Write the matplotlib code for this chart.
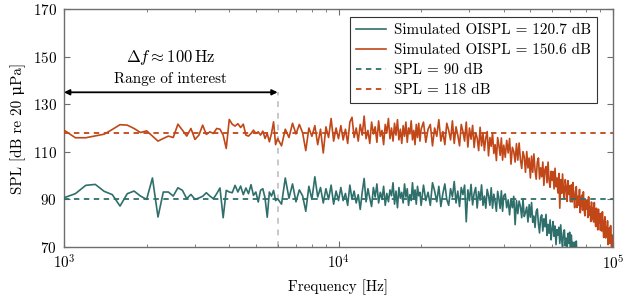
import numpy as np
import matplotlib
matplotlib.use('Agg')
import matplotlib.pyplot as plt

# frequency grid in kHz (fine at low f, coarser where the spectrum is a dense band)
freq_khz = [
    1.0, 1.1, 1.2, 1.3, 1.4, 1.5, 1.6, 1.7, 1.8, 1.9,
    2.0, 2.1, 2.2, 2.3, 2.4, 2.5, 2.6, 2.7, 2.8, 2.9,
    3.0, 3.1, 3.2, 3.3, 3.4, 3.5, 3.6, 3.7, 3.8, 3.9,
    4.0, 4.1, 4.2, 4.3, 4.4, 4.5, 4.6, 4.7, 4.8, 4.9,
    5.0, 5.1, 5.2, 5.3, 5.4, 5.5, 5.6, 5.7, 5.8, 5.9, 6.0,
    6.2, 6.4, 6.6, 6.8, 7.0, 7.2, 7.4, 7.6, 7.8, 8.0,
    8.2, 8.4, 8.6, 8.8, 9.0, 9.2, 9.4, 9.6, 9.8, 10.0,
    10.2, 10.4, 10.6, 10.8, 11.0, 11.2, 11.4, 11.6, 11.8, 12.0,
    12.2, 12.4, 12.6, 12.8, 13.0, 13.2, 13.4, 13.6, 13.8, 14.0,
    14.2, 14.4, 14.6, 14.8, 15.0, 15.2, 15.4, 15.6, 15.8, 16.0,
    16.2, 16.4, 16.6, 16.8, 17.0, 17.2, 17.4, 17.6, 17.8, 18.0,
    18.2, 18.4, 18.6, 18.8, 19.0, 19.2, 19.4, 19.6, 19.8, 20.0,
    20.4, 20.8, 21.2, 21.6, 22.0, 22.4, 22.8, 23.2, 23.6, 24.0,
    24.4, 24.8, 25.2, 25.6, 26.0, 26.4, 26.8, 27.2, 27.6, 28.0,
    28.4, 28.8, 29.2, 29.6, 30.0, 30.4, 30.8, 31.2, 31.6, 32.0,
    32.4, 32.8, 33.2, 33.6, 34.0, 34.4, 34.8, 35.2, 35.6, 36.0,
    36.4, 36.8, 37.2, 37.6, 38.0, 38.4, 38.8, 39.2, 39.6, 40.0,
    40.5, 41.0, 41.5, 42.0, 42.5, 43.0, 43.5, 44.0, 44.5, 45.0,
    45.5, 46.0, 46.5, 47.0, 47.5, 48.0, 48.5, 49.0, 49.5, 50.0,
    50.5, 51.0, 51.5, 52.0, 52.5, 53.0, 53.5, 54.0, 54.5, 55.0,
    55.5, 56.0, 56.5, 57.0, 57.5, 58.0, 58.5, 59.0, 59.5, 60.0,
    60.5, 61.0, 61.5, 62.0, 62.5, 63.0, 63.5, 64.0, 64.5, 65.0,
    65.5, 66.0, 66.5, 67.0, 67.5, 68.0, 68.5, 69.0, 69.5, 70.0,
    70.5, 71.0, 71.5, 72.0, 72.5, 73.0, 73.5, 74.0, 74.5, 75.0,
    75.5, 76.0, 76.5, 77.0, 77.5, 78.0, 78.5, 79.0, 79.5, 80.0,
    80.5, 81.0, 81.5, 82.0, 82.5, 83.0, 83.5, 84.0, 84.5, 85.0,
    85.5, 86.0, 86.5, 87.0, 87.5, 88.0, 88.5, 89.0, 89.5, 90.0,
    90.5, 91.0, 91.5, 92.0, 92.5, 93.0, 93.5, 94.0, 94.5, 95.0,
    95.5, 96.0, 96.5, 97.0, 97.5, 98.0, 98.5, 99.0, 99.5, 100.0,
]

# simulated spectrum, OISPL = 120.7 dB (teal)
spl_low = [
    90.7, 92.4, 95.9, 96.3, 93.4, 92.0, 87.2, 92.4, 93.5, 91.4,
    90.0, 99.0, 82.6, 93.1, 93.1, 91.4, 94.9, 93.8, 90.3, 92.1,
    90.0, 90.6, 91.3, 92.8, 91.4, 90.3, 92.4, 94.8, 82.3, 93.8,
    93.1, 92.8, 95.9, 93.1, 95.6, 92.0, 94.8, 92.4, 96.2, 91.7,
    93.1, 88.9, 93.8, 94.5, 90.6, 82.5, 93.1, 91.4, 93.8, 89.5, 90.3,
    88.0, 99.0, 90.5, 96.5, 89.0, 94.0, 91.5, 85.0, 95.5, 90.0,
    99.5, 91.0, 95.0, 88.5, 94.5, 90.0, 96.0, 88.0, 93.5, 89.5,
    95.0, 89.5, 92.5, 87.5, 96.0, 90.0, 93.5, 88.5, 92.0, 85.8,
    93.0, 98.8, 89.0, 94.5, 90.5, 87.0, 95.0, 91.0, 96.5, 88.5,
    93.0, 90.0, 95.5, 87.5, 92.5, 89.0, 94.0, 91.5, 97.0, 88.0,
    93.5, 86.5, 95.0, 90.5, 93.0, 88.5, 96.5, 91.0, 94.5, 87.5,
    92.0, 89.5, 97.0, 90.0, 94.0, 88.0, 95.5, 91.5, 93.0, 87.5,
    96.0, 89.5, 93.0, 87.5, 97.0, 93.5, 89.0, 95.5, 87.0, 92.5,
    96.5, 90.0, 87.5, 94.5, 91.0, 97.5, 88.5, 93.5, 87.0, 95.0,
    92.0, 96.0, 80.6, 94.0, 89.5, 96.3, 87.7, 92.6, 95.0, 86.4,
    93.3, 89.7, 96.1, 87.5, 91.4, 86.3, 94.2, 91.6, 87.5, 94.9,
    86.3, 92.2, 89.1, 85.0, 93.4, 90.3, 86.2, 93.6, 85.0, 91.5,
    92.3, 86.5, 89.8, 83.5, 90.3, 86.5, 91.3, 79.4, 89.5, 84.0,
    89.3, 87.0, 82.3, 90.0, 82.8, 84.5, 86.8, 80.5, 87.8, 82.5,
    88.7, 80.4, 83.0, 78.2, 84.9, 86.0, 79.7, 75.9, 82.5, 83.5,
    76.7, 81.9, 78.5, 83.7, 74.9, 79.5, 75.7, 81.4, 73.0, 77.5,
    80.7, 74.5, 78.8, 71.0, 77.3, 75.0, 78.3, 71.5, 79.3, 73.0,
    70.2, 76.0, 77.2, 70.5, 73.7, 68.5, 75.7, 71.5, 76.2, 69.5,
    75.0, 69.0, 72.0, 65.5, 72.0, 68.0, 72.5, 65.0, 68.0, 62.0,
    69.0, 63.5, 67.0, 61.5, 66.0, 62.0, 65.0, 60.0, 63.5, 59.5,
    62.5, 58.5, 61.5, 57.5, 60.5, 57.0, 60.0, 56.0, 59.0, 55.5,
    58.5, 54.5, 57.5, 54.0, 57.0, 53.5, 56.0, 52.5, 55.5, 52.0,
    55.0, 51.5, 54.5, 51.0, 54.0, 50.5, 53.0, 50.0, 52.5, 49.5,
    52.0, 49.0, 51.5, 48.5, 51.0, 48.0, 50.5, 47.5, 50.0, 47.0,
]

# simulated spectrum, OISPL = 150.6 dB (orange)
spl_high = [
    119.1, 115.9, 115.9, 116.7, 117.4, 119.4, 121.4, 121.2, 119.8, 118.1,
    118.8, 116.6, 114.5, 115.6, 116.6, 116.0, 121.6, 119.1, 116.6, 119.8,
    115.2, 117.0, 121.2, 117.3, 118.4, 117.7, 119.8, 119.5, 117.0, 111.4,
    123.6, 121.6, 120.8, 121.8, 120.2, 121.6, 117.0, 116.6, 117.7, 119.1,
    117.7, 118.4, 117.0, 118.7, 115.6, 117.7, 114.2, 117.7, 122.6, 113.0, 115.6,
    112.5, 119.5, 116.0, 122.0, 117.5, 121.5, 118.0, 110.5, 120.0, 116.5,
    121.0, 113.0, 119.5, 109.5, 120.5, 116.0, 124.0, 114.5, 120.0, 115.5,
    121.0, 115.0, 119.5, 113.5, 122.5, 124.5, 116.0, 120.0, 114.5, 121.5,
    117.0, 125.0, 115.5, 119.0, 113.5, 122.5, 117.5, 120.5, 114.0, 123.0,
    116.5, 119.0, 113.0, 121.5, 118.0, 124.0, 115.5, 120.0, 114.5, 122.0,
    117.0, 123.5, 115.0, 119.5, 113.5, 121.0, 116.5, 122.5, 114.0, 120.0,
    117.5, 123.0, 115.0, 119.0, 113.0, 121.5, 116.0, 122.0, 114.5, 119.5,
    122.5, 114.0, 119.5, 121.5, 112.5, 120.0, 116.5, 123.5, 114.5, 118.5,
    113.0, 122.0, 119.0, 115.0, 123.0, 113.5, 120.5, 117.0, 112.5, 121.5,
    118.5, 114.5, 122.5, 112.0, 120.0, 115.3, 121.1, 111.8, 118.0, 115.8,
    110.5, 120.3, 112.5, 117.8, 110.5, 115.8, 118.5, 108.3, 116.0, 112.3,
    118.0, 109.3, 113.0, 106.3, 116.0, 112.8, 108.5, 115.8, 106.5, 112.8,
    107.7, 114.8, 109.5, 115.6, 104.8, 111.9, 110.1, 105.7, 113.4, 106.5,
    113.7, 106.8, 103.0, 110.1, 107.8, 101.4, 110.1, 103.2, 107.4, 99.0,
    108.2, 101.4, 109.1, 102.3, 98.5, 105.7, 107.4, 98.6, 103.3, 99.5,
    105.7, 95.9, 102.6, 103.8, 97.0, 105.7, 97.9, 95.1, 101.8, 98.0,
    101.7, 94.4, 103.1, 95.3, 99.0, 92.7, 100.9, 86.3, 98.3, 92.5,
    100.7, 93.4, 90.6, 98.3, 95.0, 89.2, 97.9, 92.1, 95.8, 89.0,
    96.2, 88.9, 97.1, 90.8, 86.5, 93.2, 95.4, 86.6, 91.3, 87.5,
    94.2, 84.4, 90.6, 91.8, 85.5, 93.2, 85.9, 83.1, 89.8, 86.0,
    89.7, 82.4, 91.1, 83.3, 87.0, 80.7, 88.9, 81.6, 86.3, 80.5,
    88.7, 81.4, 78.6, 86.3, 83.0, 77.2, 85.9, 80.1, 83.8, 77.0,
    84.1, 76.7, 84.8, 78.4, 74.0, 80.6, 82.7, 73.8, 78.4, 74.5,
    81.0, 71.0, 77.0, 78.0, 71.5, 79.0, 71.5, 68.5, 75.0, 71.0,
]

ref_levels = [90, 118]
sim_labels = ['Simulated OISPL = 120.7 dB', 'Simulated OISPL = 150.6 dB']
ref_labels = ['SPL = 90 dB', 'SPL = 118 dB']
band_hz = [1000, 6000]      # range of interest
arrow_level = 135

TEAL = '#2f6f6b'
ORANGE = '#c14718'
AXIS_GRAY = '#6e6e6e'
FS = 10.9

plt.rcParams['font.family'] = ['cmr10', 'DejaVu Serif']
plt.rcParams['mathtext.fontset'] = 'cm'
plt.rcParams['axes.formatter.use_mathtext'] = True

fig = plt.figure(figsize=(6.3, 2.96), dpi=100)
ax = fig.add_axes([64 / 630, 49 / 296, 549 / 630, 238 / 296])

freq = np.array(freq_khz) * 1000.0

# range of interest marker
ax.vlines(band_hz[1], 70, arrow_level, colors='#c8c8c8', lw=1.4,
          linestyles=(0, (3, 3)), zorder=1)
ax.annotate('', xy=(band_hz[0], arrow_level), xytext=(band_hz[1], arrow_level),
            arrowprops=dict(arrowstyle='<|-|>', color='black', lw=1.3,
                            mutation_scale=8, shrinkA=0, shrinkB=0),
            annotation_clip=False)
mid = np.sqrt(band_hz[0] * band_hz[1])
ax.text(mid, 149.8, r'$\Delta f \approx 100\,\mathrm{Hz}$', ha='center', va='center', fontsize=12)
ax.text(mid, 140.6, 'Range of interest', ha='center', va='center', fontsize=FS)

ax.plot(freq, spl_low, color=TEAL, lw=1.2, label=sim_labels[0], zorder=3)
ax.plot(freq, spl_high, color=ORANGE, lw=1.2, label=sim_labels[1], zorder=3)
ax.axhline(ref_levels[0], color=TEAL, lw=1.3, ls=(0, (3, 2.5)), label=ref_labels[0], zorder=4)
ax.axhline(ref_levels[1], color=ORANGE, lw=1.3, ls=(0, (3, 2.5)), label=ref_labels[1], zorder=4)

ax.set_xscale('log')
ax.set_xlim(1e3, 1e5)
ax.set_ylim(70, 170)
ax.set_yticks([70, 90, 110, 130, 150, 170])

for s in ax.spines.values():
    s.set_color(AXIS_GRAY)
    s.set_linewidth(1.0)
ax.tick_params(which='both', direction='in', top=True, right=True,
               color=AXIS_GRAY, labelsize=FS)
ax.tick_params(which='major', length=4, width=0.8, pad=5)
ax.tick_params(which='minor', length=2.5, width=0.6)

ax.set_xlabel('Frequency [Hz]', fontsize=FS, labelpad=5)
ax.set_ylabel('SPL [dB re 20 \u03bcPa]', fontsize=FS, labelpad=5)

leg = ax.legend(loc='upper right', bbox_to_anchor=(0.971, 0.966), borderaxespad=0,
                fontsize=FS, frameon=True, fancybox=False, handlelength=2.0,
                handletextpad=0.5, labelspacing=0.42, borderpad=0.4)
leg.get_frame().set_edgecolor('black')
leg.get_frame().set_linewidth(0.8)

fig.savefig('out.png', dpi=100)
